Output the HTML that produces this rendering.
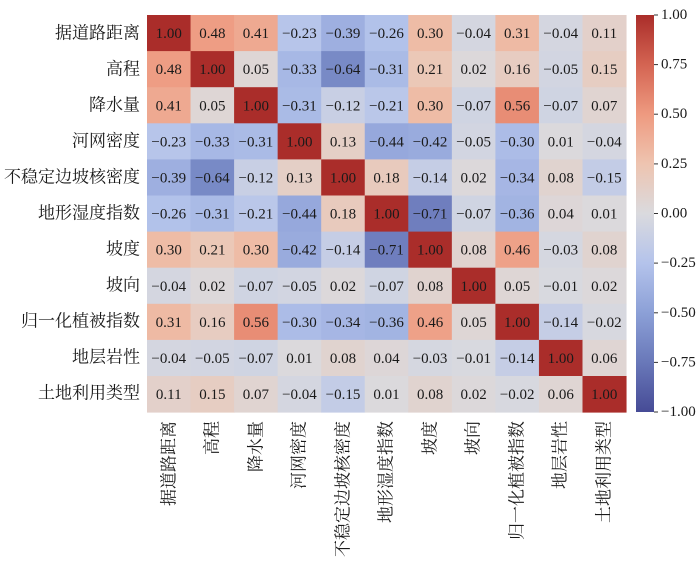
<!DOCTYPE html>
<html><head><meta charset="utf-8"><style>
body{margin:0;background:#fff}
svg{display:block;font-family:"Liberation Serif","Noto Serif CJK SC",serif}
.n{font-size:15px;fill:#1a1a1a;text-anchor:middle;dominant-baseline:central}
.yl{font-size:17px;fill:#1a1a1a;text-anchor:end;dominant-baseline:central}
.xl{font-size:17px;fill:#1a1a1a;text-anchor:end;dominant-baseline:central}
.cb{font-size:15px;fill:#1a1a1a;dominant-baseline:central}
</style></head><body>
<svg id="s" width="700" height="562" viewBox="0 0 700 562">
<defs><linearGradient id="g" x1="0" y1="1" x2="0" y2="0">
<stop offset="0" stop-color="rgb(70,75,150)"/><stop offset="0.125" stop-color="rgb(105,120,185)"/>
<stop offset="0.25" stop-color="rgb(140,160,215)"/><stop offset="0.375" stop-color="rgb(180,195,235)"/>
<stop offset="0.5" stop-color="rgb(218,218,222)"/><stop offset="0.625" stop-color="rgb(238,196,176)"/>
<stop offset="0.75" stop-color="rgb(238,154,128)"/><stop offset="0.875" stop-color="rgb(212,100,82)"/>
<stop offset="1" stop-color="rgb(170,45,42)"/></linearGradient></defs>
<g id="cells"></g>
<rect x="636" y="15" width="18" height="397" fill="url(#g)"/>
<g stroke="#333" stroke-width="1">
<line x1="654" y1="15" x2="658" y2="15"/><line x1="654" y1="64.6" x2="658" y2="64.6"/><line x1="654" y1="114.2" x2="658" y2="114.2"/><line x1="654" y1="163.9" x2="658" y2="163.9"/><line x1="654" y1="213.5" x2="658" y2="213.5"/><line x1="654" y1="263.1" x2="658" y2="263.1"/><line x1="654" y1="312.8" x2="658" y2="312.8"/><line x1="654" y1="362.4" x2="658" y2="362.4"/><line x1="654" y1="412" x2="658" y2="412"/>
</g>
<text class="cb" x="661" y="15">1.00</text><text class="cb" x="661" y="64.6">0.75</text><text class="cb" x="661" y="114.2">0.50</text><text class="cb" x="661" y="163.9">0.25</text><text class="cb" x="661" y="213.5">0.00</text><text class="cb" x="661" y="263.1">−0.25</text><text class="cb" x="661" y="312.8">−0.50</text><text class="cb" x="661" y="362.4">−0.75</text><text class="cb" x="661" y="412">−1.00</text>
<g id="nums"></g>
<text class="yl" x="140" y="33">据道路距离</text><text class="yl" x="140" y="69">高程</text><text class="yl" x="140" y="105">降水量</text><text class="yl" x="140" y="141">河网密度</text><text class="yl" x="140" y="177">不稳定边坡核密度</text><text class="yl" x="140" y="213">地形湿度指数</text><text class="yl" x="140" y="249">坡度</text><text class="yl" x="140" y="285">坡向</text><text class="yl" x="140" y="321">归一化植被指数</text><text class="yl" x="140" y="357">地层岩性</text><text class="yl" x="140" y="393">土地利用类型</text>
<text class="xl" transform="translate(169,421) rotate(-90)">据道路距离</text><text class="xl" transform="translate(212,421) rotate(-90)">高程</text><text class="xl" transform="translate(256,421) rotate(-90)">降水量</text><text class="xl" transform="translate(299,421) rotate(-90)">河网密度</text><text class="xl" transform="translate(343,421) rotate(-90)">不稳定边坡核密度</text><text class="xl" transform="translate(386,421) rotate(-90)">地形湿度指数</text><text class="xl" transform="translate(430,421) rotate(-90)">坡度</text><text class="xl" transform="translate(473,421) rotate(-90)">坡向</text><text class="xl" transform="translate(517,421) rotate(-90)">归一化植被指数</text><text class="xl" transform="translate(560,421) rotate(-90)">地层岩性</text><text class="xl" transform="translate(604,421) rotate(-90)">土地利用类型</text>
</svg>
<script>
var M=[[1,.48,.41,-.23,-.39,-.26,.30,-.04,.31,-.04,.11],
[.48,1,.05,-.33,-.64,-.31,.21,.02,.16,-.05,.15],
[.41,.05,1,-.31,-.12,-.21,.30,-.07,.56,-.07,.07],
[-.23,-.33,-.31,1,.13,-.44,-.42,-.05,-.30,.01,-.04],
[-.39,-.64,-.12,.13,1,.18,-.14,.02,-.34,.08,-.15],
[-.26,-.31,-.21,-.44,.18,1,-.71,-.07,-.36,.04,.01],
[.30,.21,.30,-.42,-.14,-.71,1,.08,.46,-.03,.08],
[-.04,.02,-.07,-.05,.02,-.07,.08,1,.05,-.01,.02],
[.31,.16,.56,-.30,-.34,-.36,.46,.05,1,-.14,-.02],
[-.04,-.05,-.07,.01,.08,.04,-.03,-.01,-.14,1,.06],
[.11,.15,.07,-.04,-.15,.01,.08,.02,-.02,.06,1]];
var C=[[70,75,150],[105,120,185],[140,160,215],[180,195,235],[218,218,222],[238,196,176],[238,154,128],[212,100,82],[170,45,42]];
function col(v){var t=(v+1)*4,i=Math.min(7,Math.floor(t)),f=t-i;var a=C[i],b=C[i+1];
return 'rgb('+[0,1,2].map(function(k){return Math.round(a[k]+(b[k]-a[k])*f)}).join(',')+')';}
var ns='http://www.w3.org/2000/svg',g=document.getElementById('cells'),h=document.getElementById('nums');
var x0=147,y0=15,w=43.55,hh=36.1;
for(var r=0;r<11;r++)for(var c=0;c<11;c++){var e=document.createElementNS(ns,'rect');
e.setAttribute('x',x0+c*w);e.setAttribute('y',y0+r*hh);e.setAttribute('width',w+0.5);e.setAttribute('height',hh+0.5);
e.setAttribute('fill',col(M[r][c]));g.appendChild(e);
var t=document.createElementNS(ns,'text');t.setAttribute('class','n');t.setAttribute('x',x0+c*w+w/2);t.setAttribute('y',y0+r*hh+hh/2+1);
var v=M[r][c];t.textContent=(v<0?'−':'')+Math.abs(v).toFixed(2);h.appendChild(t);}
</script>
</body></html>
